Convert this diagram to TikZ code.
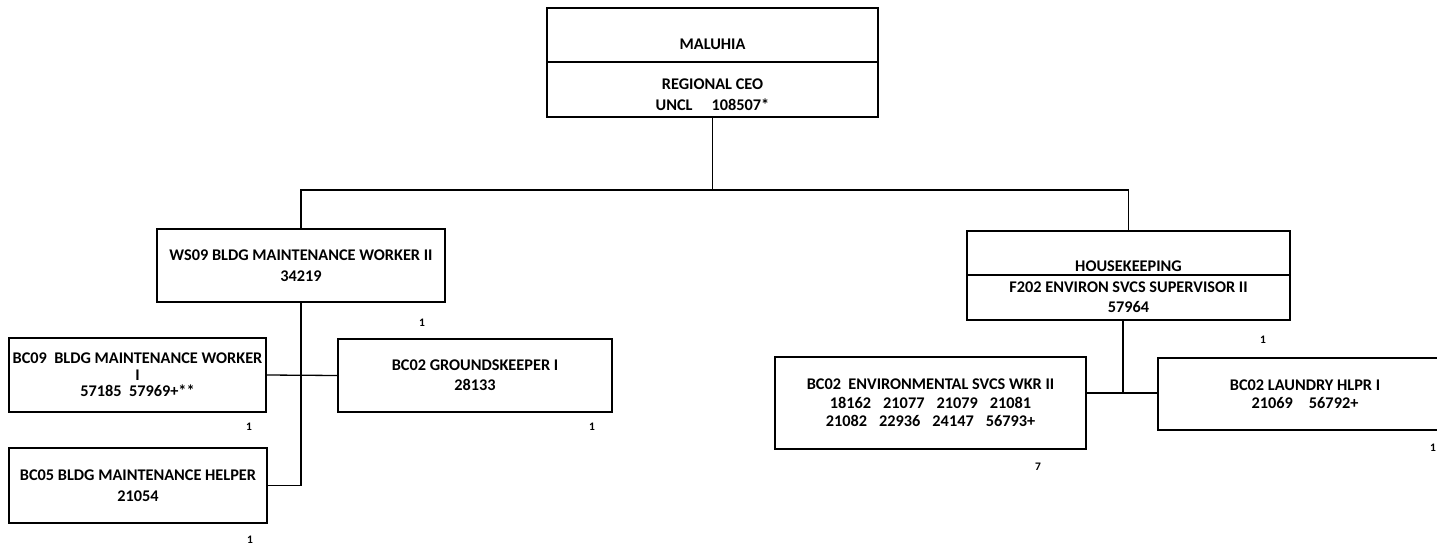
\documentclass[tikz,border=0pt]{standalone}
\usepackage{fontspec}
\setmainfont{Carlito}
\newcommand{\fs}[2]{\fontsize{#1}{#2}\selectfont\bfseries}
\begin{document}
\begin{tikzpicture}[x=1pt,y=-1pt,
  box/.style={draw=black,line width=1.8pt,inner sep=0pt,align=center},
  txt/.style={inner sep=0pt,align=center},
  cnt/.style={inner sep=0pt,font=\fs{11.5}{12}},
  conn/.style={line width=1.3pt}]
\useasboundingbox (0,0) rectangle (1437,546);
% top box
\node[box,minimum width=331pt,minimum height=109pt] (top) at (712.5,62.5) {};
\draw[line width=1.3pt] (top.west |- 0,62) -- (top.east |- 0,62);
\node[txt,font=\fs{16.3}{20}] (t1) at (712.5,44) {MALUHIA};
\node[txt,font=\fs{16.3}{21}] (t2) at (712.5,95) {REGIONAL CEO\\UNCL\hspace{19pt}108507*};
% WS09
\node[box,minimum width=288pt,minimum height=73pt,font=\fs{16.3}{21}] (ws) at (301,265.5) {WS09 BLDG MAINTENANCE WORKER II\\34219};
\node[cnt] (wsn) at (422,323) {1};
% BC09
\node[box,minimum width=257pt,minimum height=74pt,font=\fs{16.3}{16.7}] (bc09) at (137.5,375) {BC09\ \ BLDG MAINTENANCE WORKER\\I\\57185\ \ 57969+**};
\node[cnt] (bc09n) at (249,427) {1};
% Groundskeeper
\node[box,minimum width=274pt,minimum height=73pt,font=\fs{16.3}{20}] (gk) at (475,375.5) {BC02 GROUNDSKEEPER I\\28133};
\node[cnt] (gkn) at (592,427) {1};
% BC05
\node[box,minimum width=258pt,minimum height=75pt,font=\fs{16.3}{21}] (bc05) at (138,485.5) {BC05 BLDG MAINTENANCE HELPER\\21054};
\node[cnt] (bc05n) at (250,540) {1};
% Housekeeping
\node[box,minimum width=323pt,minimum height=89pt] (hk) at (1128.5,275.5) {};
\draw[line width=1.3pt] (hk.west |- 0,275) -- (hk.east |- 0,275);
\node[txt,font=\fs{16.3}{20}] (h1) at (1128.5,266.5) {HOUSEKEEPING};
\node[txt,font=\fs{16.3}{20}] (h2) at (1128.5,297) {F202 ENVIRON SVCS SUPERVISOR II\\57964};
\node[cnt] (hkn) at (1263,340) {1};
% Env
\node[box,minimum width=311pt,minimum height=92pt,font=\fs{16.3}{18.3}] (env) at (930.5,403) {BC02\ \ ENVIRONMENTAL SVCS WKR II\\18162\hspace{12pt}21077\hspace{12pt}21079\hspace{12pt}21081\\21082\hspace{12pt}22936\hspace{12pt}24147\hspace{12pt}56793+};
\node[cnt] (envn) at (1038,467) {7};
% Laundry
\node[box,minimum width=294pt,minimum height=72pt,font=\fs{16.3}{18}] (ldy) at (1305,394) {BC02 LAUNDRY HLPR I\\21069\hspace{16pt}56792+};
\node[cnt] (ldyn) at (1433,448) {1};
% connectors
\coordinate (bus) at (712.5,190);
\coordinate (j) at (1123,393);
\draw[conn] (top.south) -- (bus);
\draw[conn] (ws.north) |- (bus) -| (hk.north);
\draw[conn] (ws.south) |- (bc05.east);
\draw[conn] (bc09.east) -- (gk.west);
\draw[conn] (hk.south -| j) -- (j);
\draw[conn] (env.east |- j) -- (ldy.west |- j);
\end{tikzpicture}
\end{document}
